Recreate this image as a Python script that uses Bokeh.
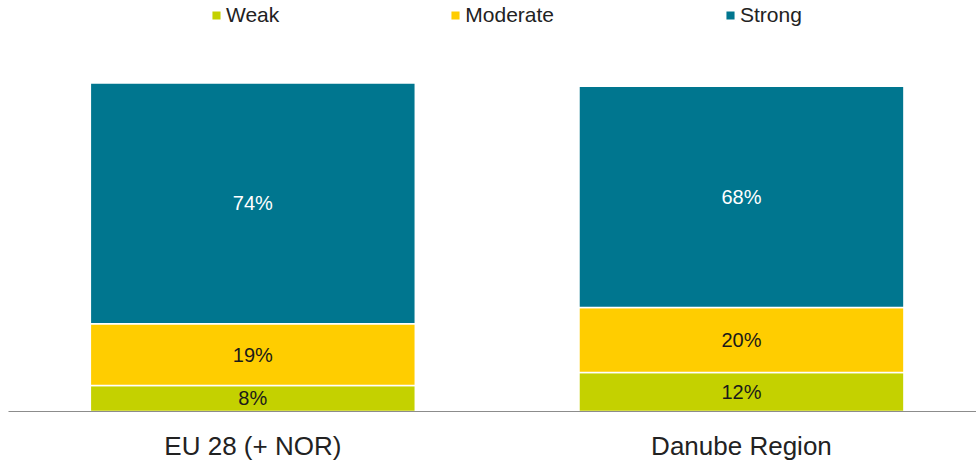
from bokeh.plotting import figure
from bokeh.models import Range1d, FixedTicker, Legend, LegendItem, ColumnDataSource
from bokeh.core.properties import value
from bokeh.embed import file_html
from bokeh.resources import INLINE

# Share of respondents by strength category, per region (percent)
regions = ["EU 28 (+ NOR)", "Danube Region"]
weak = [8, 12]
moderate = [19, 20]
strong = [74, 68]

series_names = ["Weak", "Moderate", "Strong"]
colors = ["#C4D100", "#FFCD00", "#00768F"]
label_colors = ["#1a1a1a", "#1a1a1a", "#ffffff"]

FONT = "Liberation Sans"

x_pos = [i + 0.5 for i in range(len(regions))]

source = ColumnDataSource(data=dict(x=x_pos, Weak=weak, Moderate=moderate, Strong=strong))

p = figure(
    width=976, height=463,
    x_range=Range1d(0, 1.981), y_range=Range1d(0, 126.4),
    y_axis_location=None,
    toolbar_location=None, output_backend="svg",
    min_border_left=8, min_border_right=0, min_border_top=0, min_border_bottom=51,
)
p.outline_line_color = None
p.xgrid.grid_line_color = None
p.ygrid.grid_line_color = None
p.background_fill_color = "white"
p.border_fill_color = "white"

renderers = p.vbar_stack(
    series_names, x="x", width=0.665, source=source,
    fill_color=colors, line_color="white", line_width=1.5,
)

# Percent labels centred in every segment
base = [0.0] * len(regions)
for name, vals, tc in zip(series_names, [weak, moderate, strong], label_colors):
    mids = [b + v / 2 for b, v in zip(base, vals)]
    texts = [f"{v}%" for v in vals]
    p.text(x=x_pos, y=mids, text=texts, text_align="center", text_baseline="middle",
           text_font=value(FONT), text_font_size="20px", text_color=tc)
    base = [b + v for b, v in zip(base, vals)]

# Category axis along the baseline
ax = p.xaxis[0]
ax.ticker = FixedTicker(ticks=x_pos)
ax.major_label_overrides = {x: r for x, r in zip(x_pos, regions)}
ax.major_tick_line_color = None
ax.minor_tick_line_color = None
ax.axis_line_color = "#8c8c8c"
ax.axis_line_width = 1.2
ax.major_label_text_font = FONT
ax.major_label_text_font_size = "26px"
ax.major_label_text_color = "#222222"
ax.major_label_standoff = 13

legend = Legend(
    items=[LegendItem(label=n, renderers=[r]) for n, r in zip(series_names, renderers)],
    orientation="horizontal", location=(202, 384),
    glyph_width=12, glyph_height=12, label_standoff=4, spacing=170,
    padding=0, margin=0, border_line_color=None, background_fill_alpha=0,
    label_text_font=FONT, label_text_font_size="21px", label_text_color="#222222",
)
p.add_layout(legend)

open("out.html", "w").write(file_html(p, INLINE))
